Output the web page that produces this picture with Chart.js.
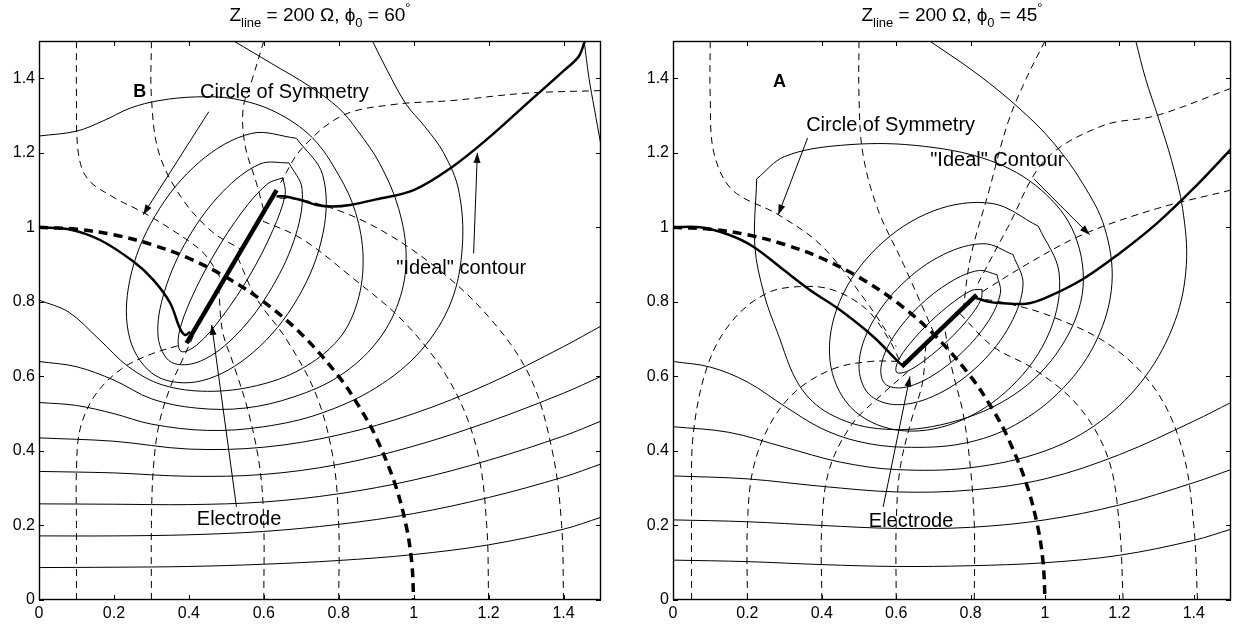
<!DOCTYPE html>
<html>
<head>
<meta charset="utf-8">
<script src="https://cdn.jsdelivr.net/npm/chart.js@4.4.1/dist/chart.umd.min.js"></script>
<style>
  html, body { margin: 0; padding: 0; background: #fff; }
  .panel { position: absolute; top: 0; width: 619px; height: 625px; }
  #panelB { left: 0; }
  #panelA { left: 619px; }
</style>
</head>
<body>
<div class="panel" id="panelB"><canvas id="chartB" width="619" height="625"></canvas></div>
<div class="panel" id="panelA"><canvas id="chartA" width="619" height="625"></canvas></div>
<script>
// axis ticks shared by both panels
const xTicks = [0, 0.2, 0.4, 0.6, 0.8, 1, 1.2, 1.4];
const yTicks = [0, 0.2, 0.4, 0.6, 0.8, 1, 1.2, 1.4];

// ---------- panel B (phi0 = 60 deg) ----------
const B_electrode = [[0.394, 0.689], [0.634, 1.10]];
const B_idealLow = [[0, 1], [0.08, 0.995], [0.163, 0.966], [0.252, 0.908], [0.305, 0.859], [0.35, 0.797], [0.376, 0.729], [0.39, 0.711], [0.403, 0.72]];
const B_idealHigh = [[0.634, 1.083], [0.657, 1.083], [0.697, 1.074], [0.741, 1.06], [0.785, 1.056], [0.83, 1.06], [0.9, 1.075], [1.0, 1.1], [1.1, 1.16], [1.2, 1.24], [1.3, 1.33], [1.4, 1.42], [1.44, 1.458], [1.457, 1.5]];
const B_circle = [[0, 1], [0.1, 0.995], [0.2, 0.98], [0.3, 0.954], [0.4, 0.917], [0.5, 0.866], [0.6, 0.8], [0.7, 0.714], [0.8, 0.6], [0.86, 0.51], [0.9, 0.436], [0.95, 0.312], [0.98, 0.199], [0.995, 0.1], [1, 0]];

// equipotentials (thin solid)
const B_s1 = [[0, 0.087], [0.2, 0.088], [0.4, 0.09], [0.6, 0.096], [0.8, 0.106], [1.0, 0.122], [1.2, 0.148], [1.4, 0.19], [1.5, 0.222]];
const B_s2 = [[0, 0.172], [0.2, 0.172], [0.4, 0.175], [0.6, 0.184], [0.8, 0.203], [1.0, 0.232], [1.2, 0.275], [1.4, 0.33], [1.5, 0.365]];
const B_s3 = [[0, 0.258], [0.2, 0.257], [0.4, 0.256], [0.6, 0.263], [0.8, 0.285], [1.0, 0.322], [1.2, 0.375], [1.4, 0.44], [1.5, 0.48]];
const B_s4 = [[0, 0.345], [0.2, 0.341], [0.4, 0.332], [0.6, 0.337], [0.8, 0.364], [1.0, 0.413], [1.2, 0.478], [1.4, 0.555], [1.5, 0.6]];
const B_s5 = [[0, 0.435], [0.2, 0.426], [0.4, 0.405], [0.6, 0.41], [0.8, 0.443], [1.0, 0.5], [1.2, 0.58], [1.4, 0.68], [1.5, 0.735]];
const B_s6 = [[0, 0.53], [0.1, 0.522], [0.2, 0.5], [0.3, 0.472], [0.45, 0.455], [0.6, 0.465], [0.75, 0.5], [0.9, 0.57], [1.02, 0.67], [1.1, 0.8], [1.13, 0.95], [1.12, 1.1], [1.08, 1.2], [1.03, 1.27], [0.98, 1.33], [0.93, 1.42], [0.89, 1.5]];
const B_s7 = [[0, 0.64], [0.1, 0.626], [0.2, 0.59], [0.3, 0.54], [0.42, 0.515], [0.55, 0.515], [0.68, 0.545], [0.8, 0.6], [0.9, 0.69], [0.96, 0.8], [0.98, 0.92], [0.96, 1.05], [0.91, 1.17], [0.85, 1.26], [0.8, 1.32], [0.72, 1.38], [0.62, 1.44], [0.52, 1.5]];
const B_s8 = [[0, 0.805], [0.08, 0.772], [0.16, 0.7], [0.24, 0.625], [0.33, 0.577], [0.45, 0.56], [0.58, 0.575], [0.7, 0.62], [0.8, 0.7], [0.85, 0.8], [0.865, 0.92], [0.845, 1.04], [0.8, 1.14], [0.73, 1.24], [0.63, 1.31], [0.52, 1.345], [0.42, 1.35], [0.32, 1.34], [0.244, 1.32], [0.17, 1.285], [0.1, 1.258], [0, 1.245]];
const B_s9 = [[1.455, 1.5], [1.468, 1.4], [1.482, 1.32], [1.5, 1.22]];
const B_loop1 = [[0.651, 1.133], [0.609, 1.116], [0.542, 1.041], [0.468, 0.928], [0.406, 0.808], [0.373, 0.712], [0.379, 0.667], [0.421, 0.684], [0.488, 0.759], [0.563, 0.872], [0.624, 0.992], [0.657, 1.088], [0.651, 1.133]];
const B_loop2 = [[0.667, 1.173], [0.59, 1.17], [0.491, 1.096], [0.398, 0.971], [0.335, 0.828], [0.318, 0.706], [0.353, 0.638], [0.431, 0.641], [0.529, 0.714], [0.622, 0.839], [0.686, 0.982], [0.702, 1.104], [0.667, 1.173]];
const B_loop3 = [[0.687, 1.239], [0.567, 1.252], [0.429, 1.176], [0.31, 1.031], [0.242, 0.857], [0.243, 0.699], [0.313, 0.601], [0.433, 0.588], [0.571, 0.664], [0.69, 0.809], [0.758, 0.984], [0.757, 1.141], [0.687, 1.239]];

// field lines (thin dashed)
const B_d1 = [[0.1, 0], [0.1, 0.2], [0.1, 0.35], [0.11, 0.46], [0.15, 0.55], [0.22, 0.62], [0.3, 0.66], [0.38, 0.685]];
const B_d2 = [[0.3, 0], [0.3, 0.2], [0.305, 0.35], [0.32, 0.47], [0.35, 0.57], [0.39, 0.66], [0.44, 0.77]];
const B_d3 = [[0.6, 0], [0.6, 0.2], [0.59, 0.35], [0.56, 0.5], [0.52, 0.63], [0.49, 0.72], [0.48, 0.83]];
const B_d4 = [[0.8, 0], [0.8, 0.2], [0.785, 0.38], [0.74, 0.55], [0.66, 0.7], [0.58, 0.81], [0.53, 0.92]];
const B_d5 = [[1.2, 0], [1.195, 0.2], [1.17, 0.4], [1.1, 0.58], [0.98, 0.74], [0.83, 0.87], [0.7, 0.97], [0.59, 1.02]];
const B_d6 = [[1.4, 0], [1.395, 0.2], [1.37, 0.4], [1.31, 0.6], [1.2, 0.76], [1.05, 0.9], [0.88, 1.01], [0.72, 1.07], [0.62, 1.08]];
const B_d7 = [[1.5, 1.367], [1.3, 1.36], [1.1, 1.34], [0.95, 1.33], [0.81, 1.3], [0.7, 1.21], [0.645, 1.12]];
const B_t1 = [[0.1, 1.5], [0.1, 1.35], [0.105, 1.2], [0.13, 1.13], [0.2, 1.08], [0.278, 1.04], [0.36, 0.99], [0.44, 0.93], [0.49, 0.855]];
const B_t2 = [[0.3, 1.5], [0.3, 1.35], [0.32, 1.2], [0.38, 1.08], [0.46, 0.99], [0.54, 0.94]];
const B_t3 = [[0.6, 1.5], [0.57, 1.4], [0.545, 1.32], [0.55, 1.22], [0.58, 1.12], [0.6, 1.045]];

// ---------- panel A (phi0 = 45 deg) ----------
const A_electrode = [[0.615, 0.626], [0.816, 0.819]];
const A_idealLow = [[0, 1], [0.073, 1.0], [0.15, 0.98], [0.216, 0.948], [0.297, 0.886], [0.368, 0.832], [0.449, 0.778], [0.538, 0.707], [0.61, 0.635], [0.62, 0.63]];
const A_idealHigh = [[0.816, 0.81], [0.85, 0.8], [0.879, 0.797], [0.95, 0.795], [1.0, 0.81], [1.1, 0.86], [1.2, 0.93], [1.3, 1.01], [1.4, 1.105], [1.5, 1.21]];
const A_circle = [[0, 1], [0.1, 0.995], [0.2, 0.98], [0.3, 0.954], [0.4, 0.917], [0.5, 0.866], [0.6, 0.8], [0.7, 0.714], [0.8, 0.6], [0.86, 0.51], [0.9, 0.436], [0.95, 0.312], [0.98, 0.199], [0.995, 0.1], [1, 0]];

const A_s1 = [[0, 0.107], [0.2, 0.103], [0.4, 0.095], [0.6, 0.09], [0.8, 0.092], [1.0, 0.1], [1.2, 0.12], [1.4, 0.16], [1.5, 0.19]];
const A_s2 = [[0, 0.215], [0.2, 0.21], [0.4, 0.2], [0.6, 0.192], [0.8, 0.195], [1.0, 0.215], [1.2, 0.255], [1.4, 0.315], [1.5, 0.35]];
const A_s3 = [[0, 0.333], [0.2, 0.325], [0.4, 0.305], [0.6, 0.29], [0.8, 0.295], [1.0, 0.325], [1.2, 0.39], [1.4, 0.48], [1.5, 0.53]];
const A_s4 = [[0, 0.465], [0.15, 0.45], [0.3, 0.41], [0.45, 0.37], [0.6, 0.35], [0.8, 0.355], [1.0, 0.4], [1.15, 0.48], [1.27, 0.6], [1.35, 0.75], [1.38, 0.9], [1.37, 1.05], [1.34, 1.18], [1.306, 1.29], [1.27, 1.4], [1.244, 1.5]];
const A_s5 = [[0, 0.64], [0.1, 0.625], [0.2, 0.585], [0.3, 0.52], [0.4, 0.46], [0.5, 0.425], [0.62, 0.41], [0.78, 0.42], [0.92, 0.47], [1.05, 0.57], [1.14, 0.7], [1.18, 0.85], [1.16, 1.0], [1.1, 1.12], [1.02, 1.23], [0.93, 1.32], [0.82, 1.41], [0.69, 1.5]];
const A_egg = [[0.225, 1.13], [0.22, 0.95], [0.245, 0.82], [0.28, 0.72], [0.34, 0.575], [0.42, 0.5], [0.55, 0.46], [0.72, 0.47], [0.9, 0.54], [1.03, 0.66], [1.1, 0.82], [1.08, 0.98], [0.99, 1.1], [0.85, 1.18], [0.65, 1.22], [0.45, 1.22], [0.3, 1.19], [0.225, 1.13]];
const A_loop1 = [[0.831, 0.833], [0.804, 0.831], [0.753, 0.799], [0.692, 0.747], [0.637, 0.688], [0.604, 0.639], [0.601, 0.611], [0.628, 0.613], [0.679, 0.645], [0.74, 0.697], [0.795, 0.756], [0.828, 0.806], [0.831, 0.833]];
const A_loop2 = [[0.871, 0.873], [0.821, 0.884], [0.745, 0.853], [0.661, 0.788], [0.593, 0.707], [0.56, 0.631], [0.569, 0.581], [0.619, 0.57], [0.696, 0.601], [0.779, 0.666], [0.847, 0.747], [0.88, 0.823], [0.871, 0.873]];
const A_loop3 = [[0.914, 0.927], [0.836, 0.956], [0.727, 0.927], [0.616, 0.848], [0.533, 0.74], [0.5, 0.632], [0.526, 0.553], [0.604, 0.524], [0.713, 0.553], [0.824, 0.632], [0.907, 0.74], [0.941, 0.848], [0.914, 0.927]];
const A_loop4 = [[0.982, 1.003], [0.858, 1.064], [0.7, 1.044], [0.55, 0.947], [0.448, 0.801], [0.422, 0.643], [0.478, 0.517], [0.602, 0.456], [0.76, 0.476], [0.91, 0.573], [1.012, 0.719], [1.038, 0.877], [0.982, 1.003]];

const A_d1 = [[0.05, 0], [0.05, 0.25], [0.055, 0.45], [0.095, 0.635], [0.16, 0.75], [0.252, 0.823], [0.341, 0.841], [0.43, 0.832], [0.52, 0.78], [0.58, 0.7], [0.615, 0.63]];
const A_d2 = [[0.2, 0], [0.2, 0.2], [0.215, 0.35], [0.26, 0.47], [0.33, 0.56], [0.43, 0.62], [0.53, 0.64], [0.62, 0.64]];
const A_d3 = [[0.4, 0], [0.4, 0.2], [0.42, 0.35], [0.48, 0.47], [0.56, 0.55], [0.64, 0.62]];
const A_d4 = [[0.6, 0], [0.6, 0.2], [0.61, 0.35], [0.64, 0.48], [0.67, 0.58], [0.68, 0.688]];
const A_d5 = [[0.81, 0], [0.81, 0.2], [0.8, 0.35], [0.78, 0.5], [0.75, 0.62], [0.73, 0.73]];
const A_d6 = [[1.21, 0], [1.2, 0.2], [1.17, 0.38], [1.09, 0.52], [0.97, 0.62], [0.86, 0.68], [0.77, 0.77]];
const A_d7 = [[1.41, 0], [1.4, 0.2], [1.37, 0.4], [1.3, 0.56], [1.18, 0.68], [1.02, 0.76], [0.88, 0.8], [0.8, 0.81]];
const A_t1 = [[0.1, 1.5], [0.1, 1.35], [0.11, 1.2], [0.16, 1.1], [0.283, 1.034], [0.4, 0.95], [0.52, 0.8], [0.6, 0.68]];
const A_t2 = [[0.5, 1.5], [0.5, 1.35], [0.51, 1.2], [0.55, 1.05], [0.62, 0.9], [0.7, 0.72]];
const A_t3 = [[1.0, 1.5], [0.95, 1.4], [0.9, 1.28], [0.85, 1.1], [0.8, 0.92], [0.78, 0.78]];
const A_r1 = [[1.5, 1.373], [1.3, 1.3], [1.153, 1.272], [1.0, 1.18], [0.9, 1.0], [0.82, 0.85]];
const A_r2 = [[1.5, 1.1], [1.3, 1.05], [1.1, 0.98], [0.95, 0.9], [0.82, 0.82]];

const FONT = '"Liberation Sans", Arial, Helvetica, sans-serif';

function line(points, width, dash) {
  return {
    data: points.map(p => ({ x: p[0], y: p[1] })),
    showLine: true,
    pointRadius: 0,
    borderColor: '#000',
    borderWidth: width,
    borderDash: dash || [],
    tension: 0.35,
    fill: false
  };
}

// frame, inward ticks, title, labels and arrows
const decor = {
  id: 'decor',
  afterDatasetsDraw(chart, args, opts) {
    const { ctx, chartArea: a, scales: { x, y } } = chart;
    ctx.save();
    ctx.strokeStyle = '#000';
    ctx.fillStyle = '#000';
    ctx.lineWidth = 1;
    ctx.setLineDash([]);
    ctx.beginPath();
    xTicks.forEach(v => {
      const px = Math.round(x.getPixelForValue(v)) + 0.5;
      ctx.moveTo(px, a.bottom); ctx.lineTo(px, a.bottom - 5);
      ctx.moveTo(px, a.top); ctx.lineTo(px, a.top + 5);
    });
    yTicks.forEach(v => {
      const py = Math.round(y.getPixelForValue(v)) + 0.5;
      ctx.moveTo(a.left, py); ctx.lineTo(a.left + 5, py);
      ctx.moveTo(a.right, py); ctx.lineTo(a.right - 5, py);
    });
    ctx.stroke();
    ctx.lineWidth = 1.4;
    ctx.strokeRect(a.left + 0.5, a.top + 0.5, a.width - 1, a.height - 1);

    // title with sub/superscripts
    const parts = opts.title;
    const big = '19px ' + FONT, small = '13px ' + FONT;
    let w = 0;
    parts.forEach(p => { ctx.font = p.s ? small : big; w += ctx.measureText(p.t).width; });
    let cx = (a.left + a.right) / 2 - w / 2;
    const base = 21;
    ctx.textBaseline = 'alphabetic';
    ctx.textAlign = 'left';
    parts.forEach(p => {
      ctx.font = p.s ? small : big;
      const dy = p.s === 'sub' ? 6 : p.s === 'sup' ? -9 : 0;
      ctx.fillText(p.t, cx, base + dy);
      cx += ctx.measureText(p.t).width;
    });

    // text notes
    ctx.textAlign = 'center';
    ctx.textBaseline = 'middle';
    opts.notes.forEach(n => {
      ctx.font = (n.bold ? 'bold ' : '') + n.size + 'px ' + FONT;
      ctx.fillText(n.text, x.getPixelForValue(n.at[0]), y.getPixelForValue(n.at[1]));
    });

    // arrows
    ctx.lineWidth = 1;
    opts.arrows.forEach(ar => {
      const x0 = x.getPixelForValue(ar[0][0]), y0 = y.getPixelForValue(ar[0][1]);
      const x1 = x.getPixelForValue(ar[1][0]), y1 = y.getPixelForValue(ar[1][1]);
      const ang = Math.atan2(y1 - y0, x1 - x0);
      ctx.beginPath();
      ctx.moveTo(x0, y0); ctx.lineTo(x1, y1);
      ctx.stroke();
      const L = 10, H = 3.5;
      ctx.beginPath();
      ctx.moveTo(x1, y1);
      ctx.lineTo(x1 - L * Math.cos(ang) + H * Math.sin(ang), y1 - L * Math.sin(ang) - H * Math.cos(ang));
      ctx.lineTo(x1 - L * Math.cos(ang) - H * Math.sin(ang), y1 - L * Math.sin(ang) + H * Math.cos(ang));
      ctx.closePath();
      ctx.fill();
    });
    ctx.restore();
  }
};

function makeChart(id, d, yAxisWidth, padRight, title, notes, arrows) {
  const datasets = [];
  d.solid.forEach(p => datasets.push(line(p, 1)));
  d.dashed.forEach(p => datasets.push(line(p, 1, [7, 5])));
  datasets.push(line(d.circle, 3.5, [9, 6]));
  d.ideal.forEach(p => datasets.push(line(p, 2.5)));
  datasets.push(line(d.electrode, 4.5));

  const tickFmt = v => String(Number(v.toFixed(1)));
  return new Chart(document.getElementById(id), {
    type: 'scatter',
    data: { datasets },
    plugins: [decor],
    options: {
      responsive: false,
      animation: false,
      devicePixelRatio: 1,
      layout: { padding: { top: 41, right: padRight, left: 0, bottom: 0 } },
      plugins: {
        legend: { display: false },
        tooltip: { enabled: false },
        decor: { title, notes, arrows }
      },
      scales: {
        x: {
          type: 'linear', min: 0, max: 1.5,
          afterBuildTicks: s => { s.ticks = xTicks.map(v => ({ value: v })); },
          afterFit: s => { s.height = 25; },
          grid: { display: false, drawTicks: false },
          border: { display: false },
          ticks: { color: '#000', font: { family: FONT, size: 16 }, padding: 4, maxRotation: 0, callback: tickFmt }
        },
        y: {
          type: 'linear', min: 0, max: 1.5,
          afterBuildTicks: s => { s.ticks = yTicks.map(v => ({ value: v })); },
          afterFit: s => { s.width = yAxisWidth; },
          grid: { display: false, drawTicks: false },
          border: { display: false },
          ticks: { color: '#000', font: { family: FONT, size: 16 }, padding: 4, callback: tickFmt }
        }
      }
    }
  });
}

makeChart('chartB', {
  solid: [B_s1, B_s2, B_s3, B_s4, B_s5, B_s6, B_s7, B_s8, B_s9, B_loop1, B_loop2, B_loop3],
  dashed: [B_d1, B_d2, B_d3, B_d4, B_d5, B_d6, B_d7, B_t1, B_t2, B_t3],
  circle: B_circle,
  ideal: [B_idealLow, B_idealHigh],
  electrode: B_electrode
}, 39, 18,
[{ t: 'Z' }, { t: 'line', s: 'sub' }, { t: ' = 200 \u03A9, ' }, { t: '\u03D5' }, { t: '0', s: 'sub' }, { t: ' = 60' }, { t: '\u00B0', s: 'sup' }],
[
  { text: 'B', at: [0.269, 1.362], size: 18, bold: true },
  { text: 'Circle of Symmetry', at: [0.655, 1.362], size: 20 },
  { text: 'Electrode', at: [0.534, 0.215], size: 20 },
  { text: '"Ideal" contour', at: [1.127, 0.89], size: 20 }
],
[
  [[0.453, 1.31], [0.278, 1.034]],
  [[0.527, 0.25], [0.461, 0.738]],
  [[1.16, 0.93], [1.17, 1.2]]
]);

makeChart('chartA', {
  solid: [A_s1, A_s2, A_s3, A_s4, A_s5, A_egg, A_loop1, A_loop2, A_loop3, A_loop4],
  dashed: [A_d1, A_d2, A_d3, A_d4, A_d5, A_d6, A_d7, A_t1, A_t2, A_t3, A_r1, A_r2],
  circle: A_circle,
  ideal: [A_idealLow, A_idealHigh],
  electrode: A_electrode
}, 54, 7,
[{ t: 'Z' }, { t: 'line', s: 'sub' }, { t: ' = 200 \u03A9, ' }, { t: '\u03D5' }, { t: '0', s: 'sub' }, { t: ' = 45' }, { t: '\u00B0', s: 'sup' }],
[
  { text: 'A', at: [0.286, 1.389], size: 18, bold: true },
  { text: 'Circle of Symmetry', at: [0.585, 1.273], size: 20 },
  { text: 'Electrode', at: [0.64, 0.21], size: 20 },
  { text: '"Ideal" Contour', at: [0.872, 1.18], size: 20 }
],
[
  [[0.362, 1.24], [0.283, 1.034]],
  [[0.565, 0.25], [0.637, 0.6]],
  [[0.97, 1.13], [1.12, 0.98]]
]);
</script>
</body>
</html>
